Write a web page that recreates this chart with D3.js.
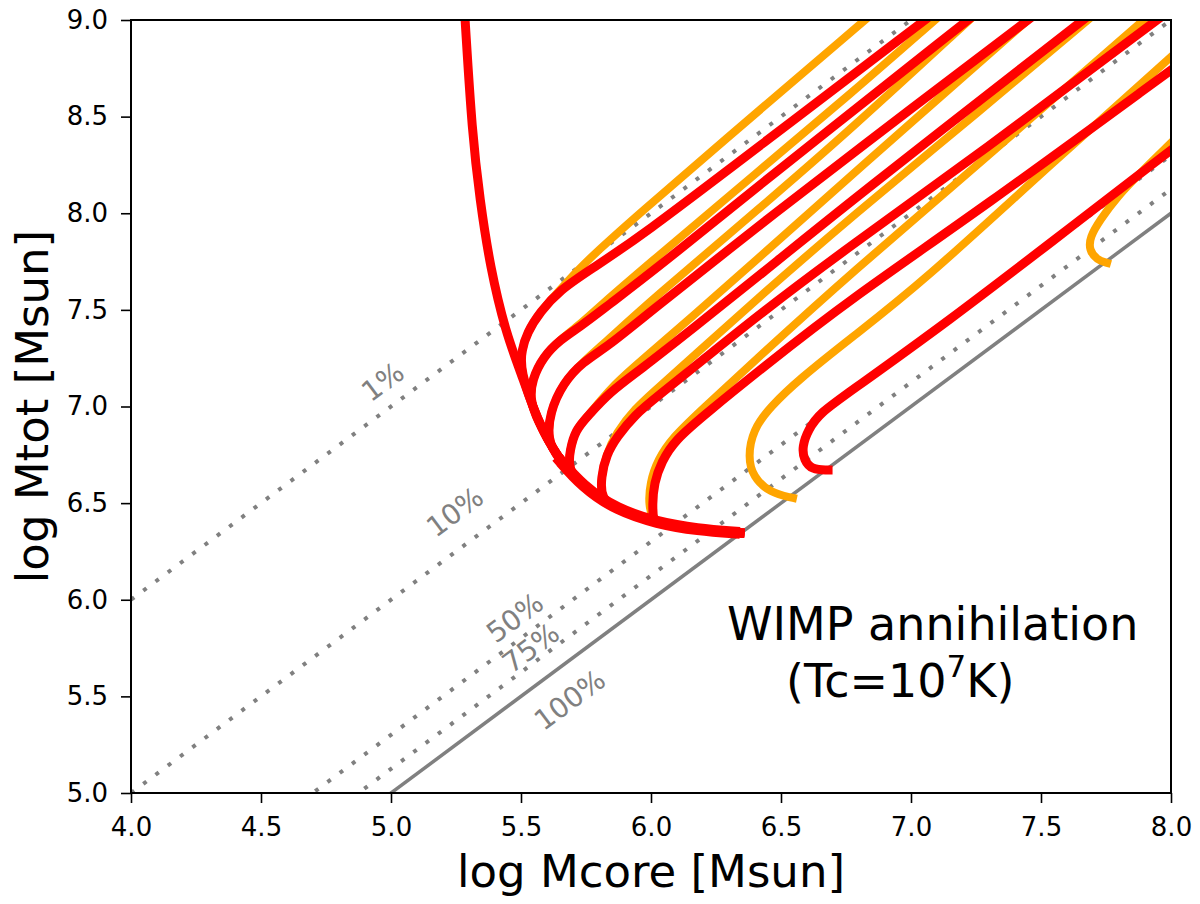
<!DOCTYPE html>
<html>
<head>
<meta charset="utf-8">
<script src="https://cdn.jsdelivr.net/npm/d3@7"></script>
<style>
  body { margin: 0; background: #fff; }
  text { font-family: "DejaVu Sans", sans-serif; }
</style>
</head>
<body>
<div id="chart"></div>
<script>
// Axis ticks
const xTicks = [4.0, 4.5, 5.0, 5.5, 6.0, 6.5, 7.0, 7.5, 8.0];
const yTicks = [5.0, 5.5, 6.0, 6.5, 7.0, 7.5, 8.0, 8.5, 9.0];

// Core mass fraction guides: log Mtot = log Mcore + offset
const guideLabels = ["1%", "10%", "50%", "75%", "100%"];
const guideOffsets = [2.0, 1.0, 0.301, 0.125, 0.0];
const guideLabelX = [4.969, 5.246, 5.477, 5.538, 5.688];
const guideLabelY = [7.127, 6.454, 5.906, 5.750, 5.481];

// Points are [log Mcore, log Mtot]
// common lower envelope, from the top of the plot down to the end on the 100% line
const redEnvelope = [[5.285, 9.0], [5.312, 8.415], [5.342, 8.069], [5.381, 7.722], [5.442, 7.38],
    [5.496, 7.189], [5.562, 6.931], [5.638, 6.739], [5.738, 6.584], [5.869, 6.465],
    [6.023, 6.398], [6.177, 6.362], [6.342, 6.346]];

// branches, each starting where it leaves the envelope
const redA = [[5.496, 7.189], [5.503, 7.293], [5.523, 7.381], [5.573, 7.489], [5.650, 7.603],
    [5.765, 7.707], [5.958, 7.877], [6.419, 8.350], [7.054, 9.0]];
const redB = [[5.535, 7.034], [5.542, 7.138], [5.585, 7.257], [5.650, 7.345], [5.727, 7.412],
    [5.831, 7.52], [6.023, 7.715], [6.419, 8.15], [7.219, 9.0]];
const redC = [[5.603, 6.827], [5.610, 6.967], [5.662, 7.122], [5.738, 7.231], [5.831, 7.308],
    [5.996, 7.49], [6.419, 7.94], [6.765, 8.30], [7.450, 9.0]];
const redD = [[5.681, 6.672], [5.688, 6.776], [5.710, 6.879], [5.754, 6.946], [5.842, 7.076],
    [5.958, 7.189], [6.150, 7.392], [6.419, 7.68], [6.765, 8.06], [7.662, 9.0]];
const redE = [[5.808, 6.52], [5.808, 6.636], [5.828, 6.750], [5.869, 6.843], [5.938, 6.957],
    [6.023, 7.050], [6.188, 7.228], [6.419, 7.48], [6.765, 7.83], [7.265, 8.31], [7.946, 9.0]];
const redF = [[6.010, 6.403], [6.005, 6.491], [6.012, 6.605], [6.040, 6.713], [6.092, 6.827],
    [6.215, 6.967], [6.419, 7.19], [6.765, 7.555], [7.265, 8.017], [8.0, 8.741]];
const redHook = [[6.681, 6.672], [6.619, 6.672], [6.588, 6.724], [6.581, 6.791], [6.604, 6.879],
    [6.650, 6.967], [6.765, 7.076], [7.150, 7.448], [7.535, 7.846], [8.0, 8.327]];

const orangeA = [[5.496, 7.189], [5.503, 7.293], [5.523, 7.381], [5.573, 7.489], [5.650, 7.603],
    [5.715, 7.70], [5.790, 7.80], [5.958, 8.002], [6.238, 8.327], [6.823, 9.0]];
const orangeB = [[5.535, 7.034], [5.542, 7.138], [5.585, 7.257], [5.650, 7.345], [5.727, 7.425],
    [5.804, 7.52], [5.958, 7.70], [6.419, 8.224], [6.765, 8.615], [7.092, 9.0]];
const orangeC = [[5.603, 6.827], [5.610, 6.967], [5.662, 7.122], [5.738, 7.231], [5.831, 7.34],
    [5.996, 7.545], [6.419, 8.027], [6.765, 8.43], [7.225, 9.0]];
const orangeD = [[5.681, 6.672], [5.688, 6.776], [5.710, 6.879], [5.754, 6.946], [5.850, 7.105],
    [5.958, 7.232], [6.150, 7.455], [6.419, 7.774], [6.765, 8.19], [7.45, 9.0]];
const orangeE = [[5.808, 6.52], [5.808, 6.636], [5.828, 6.750], [5.865, 6.862], [5.938, 6.99],
    [6.023, 7.092], [6.188, 7.29], [6.419, 7.57], [6.765, 7.975], [7.265, 8.53], [7.68, 9.0]];
const orangeF = [[6.010, 6.403], [5.990, 6.491], [5.996, 6.605], [6.025, 6.724], [6.085, 6.843],
    [6.188, 6.975], [6.419, 7.262], [6.765, 7.685], [7.265, 8.26], [7.895, 9.0]];
const orangeHook = [[6.546, 6.527], [6.458, 6.553], [6.392, 6.636], [6.373, 6.739], [6.392, 6.879],
    [6.458, 6.998], [6.573, 7.145], [6.765, 7.35], [7.042, 7.64], [7.535, 8.25], [8.0, 8.809]];
const orangeSmallHook = [[7.754, 7.743], [7.715, 7.758], [7.685, 7.81], [7.688, 7.877], [7.727, 7.965],
    [7.792, 8.084], [7.881, 8.208], [8.0, 8.364]];

// a branch runs along the envelope from its end point before it leaves it
function withTail(branch) {
    const tail = redEnvelope.filter(p => p[1] < branch[0][1]).reverse();
    return tail.concat(branch);
}

const redTracks = [redEnvelope].concat([redA, redB, redC, redD, redE, redF].map(withTail), [redHook]);
const orangeTracks = [orangeA, orangeB, orangeC, orangeD, orangeE, orangeF].map(withTail)
    .concat([orangeHook, orangeSmallHook]);

// Layout
const margin = { top: 20, right: 29, bottom: 111, left: 131 };
const width = 1200 - margin.left - margin.right;
const height = 904 - margin.top - margin.bottom;

const svg = d3.select("#chart")
    .append("svg")
    .attr("width", 1200)
    .attr("height", 904)
    .append("g")
    .attr("transform", `translate(${margin.left},${margin.top})`);

const x = d3.scaleLinear().domain([4, 8]).range([0, width]);
const y = d3.scaleLinear().domain([5, 9]).range([height, 0]);

svg.append("clipPath").attr("id", "plot-clip")
    .append("rect").attr("width", width).attr("height", height);

const plot = svg.append("g").attr("clip-path", "url(#plot-clip)");

// Guide lines
guideOffsets.forEach((off, i) => {
    const last = i === guideOffsets.length - 1;
    plot.append("line")
        .attr("x1", x(4)).attr("y1", y(4 + off))
        .attr("x2", x(8)).attr("y2", y(8 + off))
        .attr("stroke", "#808080")
        .attr("stroke-width", last ? 3.5 : 4)
        .attr("stroke-dasharray", last ? null : "4,11.3");
});

// Guide labels, rotated along the guide slope
const angle = -Math.atan2(y(5) - y(6), x(6) - x(5)) * 180 / Math.PI;
svg.selectAll(".glabel")
    .data(guideLabels)
    .join("text")
    .attr("class", "glabel")
    .attr("transform", (d, i) => `translate(${x(guideLabelX[i])},${y(guideLabelY[i])}) rotate(${angle})`)
    .attr("text-anchor", "middle")
    .attr("dominant-baseline", "central")
    .attr("font-size", 28)
    .attr("fill", "#808080")
    .text(d => d);

// Tracks
const line = d3.line()
    .x(d => x(d[0]))
    .y(d => y(d[1]))
    .curve(d3.curveBasis);

plot.selectAll(".orange")
    .data(orangeTracks)
    .join("path")
    .attr("class", "orange")
    .attr("fill", "none")
    .attr("stroke", "#ffa500")
    .attr("stroke-width", 8)
    .attr("stroke-linecap", "square")
    .attr("stroke-linejoin", "round")
    .attr("d", line);

plot.selectAll(".red")
    .data(redTracks)
    .join("path")
    .attr("class", "red")
    .attr("fill", "none")
    .attr("stroke", "#ff0000")
    .attr("stroke-width", 9)
    .attr("stroke-linecap", "square")
    .attr("stroke-linejoin", "round")
    .attr("d", line);

// Thicker lower envelope where the tracks pile up
plot.append("path")
    .datum(redEnvelope.slice(7))
    .attr("fill", "none")
    .attr("stroke", "#ff0000")
    .attr("stroke-width", 12)
    .attr("stroke-linecap", "butt")
    .attr("d", line);

// Axes
const xAxis = svg.append("g")
    .attr("transform", `translate(0,${height})`)
    .call(d3.axisBottom(x).tickValues(xTicks).tickFormat(d3.format(".1f"))
        .tickSize(10).tickSizeOuter(0).tickPadding(15));
const yAxis = svg.append("g")
    .call(d3.axisLeft(y).tickValues(yTicks).tickFormat(d3.format(".1f"))
        .tickSize(10).tickSizeOuter(0).tickPadding(13));

[xAxis, yAxis].forEach(ax => {
    ax.select(".domain").remove();
    ax.selectAll(".tick line").attr("stroke", "#000").attr("stroke-width", 1.6);
    ax.selectAll(".tick text")
        .attr("font-family", "DejaVu Sans")
        .attr("font-size", 26)
        .attr("fill", "#000");
});

// Frame
svg.append("rect")
    .attr("width", width)
    .attr("height", height)
    .attr("fill", "none")
    .attr("stroke", "#000")
    .attr("stroke-width", 2);

// Axis labels
svg.append("text")
    .attr("x", width / 2)
    .attr("y", 887 - margin.top)
    .attr("text-anchor", "middle")
    .attr("font-size", 45)
    .attr("fill", "#000")
    .text("log Mcore [Msun]");

svg.append("text")
    .attr("transform", `translate(${48 - margin.left},${height / 2}) rotate(-90)`)
    .attr("text-anchor", "middle")
    .attr("font-size", 45)
    .attr("fill", "#000")
    .text("log Mtot [Msun]");

// Annotation
svg.append("text")
    .attr("x", 727 - margin.left)
    .attr("y", 640 - margin.top)
    .attr("font-size", 46)
    .attr("fill", "#000")
    .text("WIMP annihilation");

const note = svg.append("text")
    .attr("x", 786 - margin.left)
    .attr("y", 697 - margin.top)
    .attr("font-size", 46)
    .attr("fill", "#000");
note.append("tspan").text("(Tc=10");
note.append("tspan").attr("dy", -20).attr("font-size", 31).text("7");
note.append("tspan").attr("dy", 20).text("K)");
</script>
</body>
</html>
